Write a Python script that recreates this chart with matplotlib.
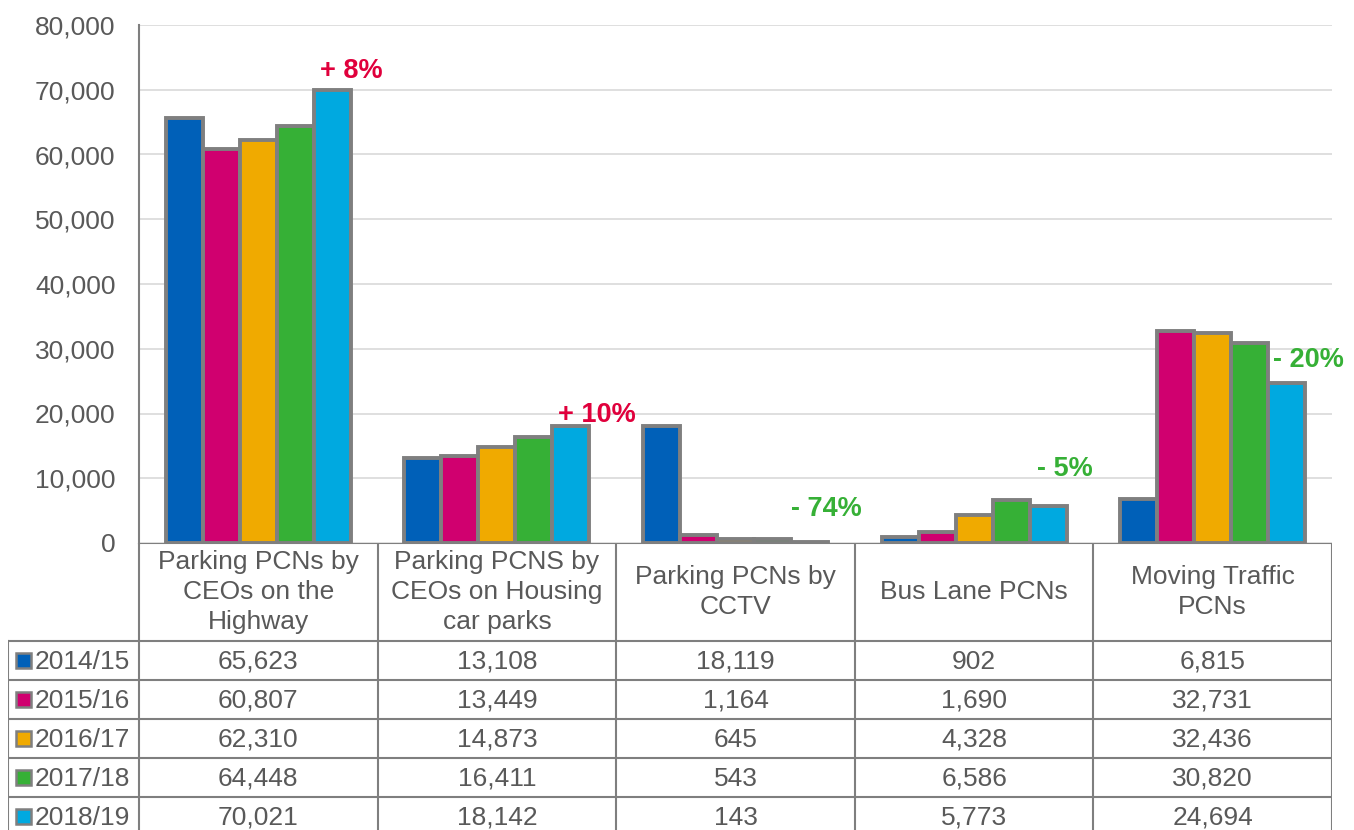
import matplotlib.pyplot as plt
from matplotlib.patches import Rectangle
import numpy as np

plt.rcParams['font.family'] = ['Liberation Sans', 'DejaVu Sans']

categories = ["Parking PCNs by\nCEOs on the\nHighway",
              "Parking PCNS by\nCEOs on Housing\ncar parks",
              "Parking PCNs by\nCCTV",
              "Bus Lane PCNs",
              "Moving Traffic\nPCNs"]
years = ["2014/15", "2015/16", "2016/17", "2017/18", "2018/19"]
v2014 = [65623, 13108, 18119, 902, 6815]
v2015 = [60807, 13449, 1164, 1690, 32731]
v2016 = [62310, 14873, 645, 4328, 32436]
v2017 = [64448, 16411, 543, 6586, 30820]
v2018 = [70021, 18142, 143, 5773, 24694]
series = [v2014, v2015, v2016, v2017, v2018]
colors = ["#0060b8", "#d0006f", "#f0aa00", "#36b036", "#00a9e0"]
changes = ["+ 8%", "+ 10%", "- 74%", "- 5%", "- 20%"]
change_colors = ["#e0003c", "#e0003c", "#36b036", "#36b036", "#36b036"]

W, H = 1354, 830
fig = plt.figure(figsize=(W / 100, H / 100), dpi=100)
grey = "#7f7f7f"
txt = "#595959"

# main plot area (pixel coords)
x0, x1, ytop, ybot = 139, 1332, 25, 543
ax = fig.add_axes([x0 / W, (H - ybot) / H, (x1 - x0) / W, (ybot - ytop) / H])
ax.set_xlim(0, 5)
ax.set_ylim(0, 80000)
ax.set_yticks(np.arange(0, 80001, 10000))
ax.set_yticklabels([f"{v:,}" for v in range(0, 80001, 10000)], fontsize=19, color=txt)
ax.tick_params(axis='y', length=0, pad=17)
ax.set_xticks([])
ax.grid(axis='y', color="#d9d9d9", lw=1.2)
ax.set_axisbelow(True)
for s in ["top", "right", "bottom"]:
    ax.spines[s].set_visible(False)
ax.spines["left"].set_color(grey)
ax.spines["left"].set_linewidth(1.5)

x = np.arange(len(categories)) + 0.5
bw = 0.155
for j, (vals, c) in enumerate(zip(series, colors)):
    ax.bar(x + (j - 2) * bw, vals, bw, color=c, edgecolor=grey, linewidth=2.8, zorder=3)

# change labels above last bar / group
label_pos = [(0.89, 70021 + 2800), (1.92, 19800), (2.88, 5200), (3.88, 11400), (4.9, 28200)]
for (lx, ly), t, c in zip(label_pos, changes, change_colors):
    ax.text(lx, ly, t, ha='center', va='center', fontsize=19.5, fontweight='bold', color=c)

# data table below
col0 = (x0 - 8) / ((x1 - x0) / 5)
tab = fig.add_axes([8 / W, (H - 836) / H, (x1 - 8) / W, (836 - ybot) / H])
tab.set_xlim(-col0, 5)
tab.set_ylim(836 - ybot, 0)
tab.axis('off')
hdr, rh = 98, 39
lw = 1.5
# header cells
tab.plot([0, 5], [0, 0], color=grey, lw=lw)
for k in range(6):
    tab.plot([k, k], [0, hdr + 5 * rh], color=grey, lw=lw)
tab.plot([-col0, -col0], [hdr, hdr + 5 * rh], color=grey, lw=lw)
for r in range(5):
    tab.plot([-col0, 5], [hdr + r * rh, hdr + r * rh], color=grey, lw=lw)
for k, cat in enumerate(categories):
    tab.text(k + 0.5, hdr / 2, cat, ha='center', va='center', fontsize=19, color=txt, linespacing=1.3)
for r, (yr, vals, c) in enumerate(zip(years, series, colors)):
    yc = hdr + r * rh + rh / 2
    tab.add_patch(Rectangle((-col0 + 0.035, yc - 7.5), 0.06, 15, facecolor=c, edgecolor=grey, lw=1.8))
    tab.text(-col0 + 0.11, yc + 1, yr, ha='left', va='center', fontsize=19, color=txt)
    for k, v in enumerate(vals):
        tab.text(k + 0.5, yc + 1, f"{v:,}", ha='center', va='center', fontsize=19, color=txt)

fig.savefig("out.png", dpi=100)
